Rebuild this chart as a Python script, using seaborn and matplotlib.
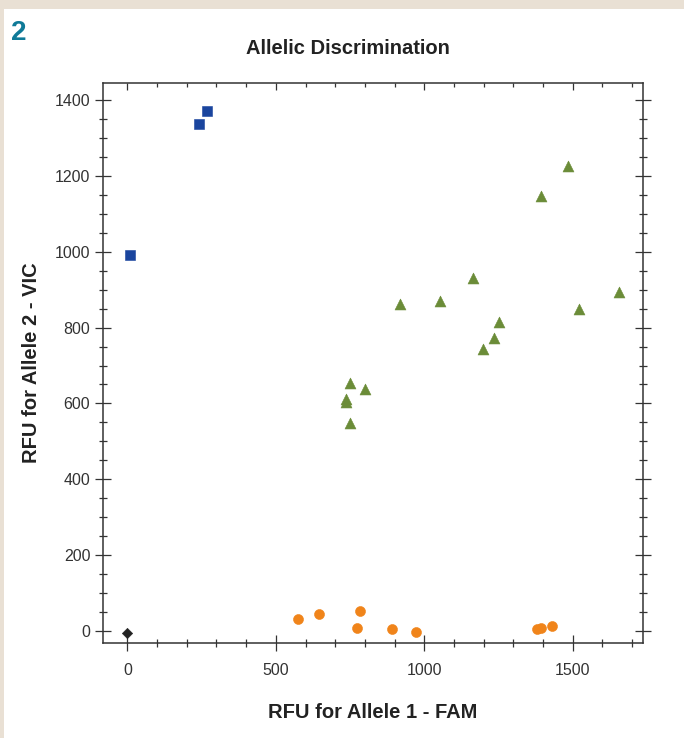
import matplotlib
matplotlib.use("Agg")
import matplotlib.pyplot as plt
from matplotlib.ticker import MultipleLocator
import pandas as pd
import seaborn as sns

# values
allele2_x = [8, 242, 268]
allele2_y = [991, 1336, 1371]

hetero_x = [1485, 1392, 1164, 1052, 917, 1655, 1521, 1251, 1236, 1198, 751, 801, 738, 736, 751]
hetero_y = [1226, 1147, 931, 871, 863, 895, 848, 815, 772, 744, 653, 638, 611, 605, 549]

allele1_x = [574, 644, 784, 773, 891, 973, 1380, 1395, 1431]
allele1_y = [31, 46, 52, 7, 6, -4, 5, 8, 12]

ntc_x = [0]
ntc_y = [-5]

groups = ["Allele 2", "Heterozygote", "Allele 1", "NTC"]
colors = {"Allele 2": "#1a459e", "Heterozygote": "#6b8c38",
          "Allele 1": "#f0841a", "NTC": "#222222"}
markers = {"Allele 2": "s", "Heterozygote": "^", "Allele 1": "o", "NTC": "D"}
sizes = {"Allele 2": 62, "Heterozygote": 62, "Allele 1": 52, "NTC": 28}

frames = []
for g, xs, ys in zip(groups, [allele2_x, hetero_x, allele1_x, ntc_x],
                     [allele2_y, hetero_y, allele1_y, ntc_y]):
    frames.append(pd.DataFrame({"FAM": xs, "VIC": ys, "call": g}))
df = pd.concat(frames, ignore_index=True)

sns.set_style("white")
plt.rcParams["font.family"] = ["Liberation Sans", "DejaVu Sans"]

fig = plt.figure(figsize=(6.84, 7.38), dpi=100)
fig.patch.set_facecolor("#e9e0d4")
# white panel
fig.add_artist(plt.Rectangle((4 / 684, 0), 1, 1 - 9 / 738, transform=fig.transFigure,
                             facecolor="white", edgecolor="none", zorder=0))

ax = fig.add_axes([102.5 / 684, 1 - 642.7 / 738, (643 - 102.5) / 684, (642.7 - 83) / 738])
ax.set_facecolor("white")

for g in groups:
    sub = df[df["call"] == g]
    sns.scatterplot(data=sub, x="FAM", y="VIC", color=colors[g], marker=markers[g],
                    s=sizes[g], linewidth=0.4, edgecolor=colors[g], ax=ax, legend=False,
                    zorder=3)

ax.set_xlim(-84, 1737)
ax.set_ylim(-31, 1445)

ax.xaxis.set_major_locator(MultipleLocator(500))
ax.xaxis.set_minor_locator(MultipleLocator(100))
ax.yaxis.set_major_locator(MultipleLocator(200))
ax.yaxis.set_minor_locator(MultipleLocator(50))

for s in ax.spines.values():
    s.set_color("#333333")
    s.set_linewidth(1.1)

ax.tick_params(which="both", bottom=True, left=True, top=False, right=True,
               color="#333333", width=0.9)
ax.tick_params(axis="x", which="major", direction="inout", length=11.5, labelsize=11.5,
               labelcolor="#333333", pad=9)
ax.tick_params(axis="x", which="minor", direction="inout", length=5.5)
ax.tick_params(axis="y", which="major", direction="inout", length=11.5, labelsize=11.5,
               labelcolor="#333333", pad=3)
ax.tick_params(axis="y", which="minor", direction="inout", length=5.5)

# top ticks point inward only
top = ax.secondary_xaxis("top")
top.xaxis.set_major_locator(MultipleLocator(500))
top.xaxis.set_minor_locator(MultipleLocator(100))
top.tick_params(which="major", direction="in", length=5, color="#333333", width=0.9,
                labeltop=False)
top.tick_params(which="minor", direction="in", length=3, color="#333333", width=0.9)
top.spines["top"].set_visible(False)

ax.set_xlabel("RFU for Allele 1 - FAM", fontsize=14.5, fontweight="bold",
              color="#222222", labelpad=18)
ax.set_ylabel("RFU for Allele 2 - VIC", fontsize=14.5, fontweight="bold",
              color="#222222", labelpad=10)

fig.text(347.5 / 684, 1 - 49 / 738, "Allelic Discrimination", fontsize=14.5,
         fontweight="bold", color="#222222", ha="center", va="center")
fig.text(11 / 684, 1 - 40 / 738, "2", fontsize=20, fontweight="bold", color="#0f7a98")

fig.savefig("out.png", dpi=100, facecolor=fig.get_facecolor())
